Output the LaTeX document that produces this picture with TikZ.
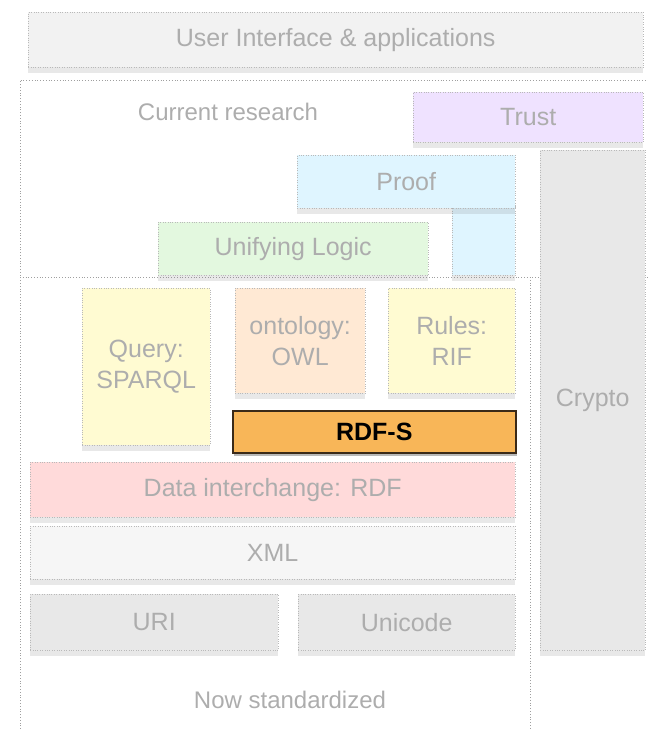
\documentclass[tikz,border=0pt]{standalone}
\usepackage{fontspec}
\setmainfont{Liberation Sans}
\usetikzlibrary{shadows}

\definecolor{fadetext}{HTML}{ADADAD}
\definecolor{uifill}{HTML}{F2F2F2}
\definecolor{trustfill}{HTML}{EFE2FF}
\definecolor{prooffill}{HTML}{DFF5FF}
\definecolor{logicfill}{HTML}{E3F8DF}
\definecolor{yellowfill}{HTML}{FFFBD2}
\definecolor{owlfill}{HTML}{FFE9D4}
\definecolor{rdffill}{HTML}{FFDADA}
\definecolor{xmlfill}{HTML}{F6F6F6}
\definecolor{grayfill}{HTML}{E8E8E8}
\definecolor{rdfsfill}{HTML}{F8B658}
\definecolor{rdfsline}{HTML}{3B2A18}

\tikzset{
  layer/.style={draw=gray!55, dotted, fill=#1, text=fadetext,
    font=\fontsize{25}{31}\selectfont, align=center, inner sep=0pt,
    anchor=north west,
    drop shadow={opacity=0.18, shadow xshift=0pt, shadow yshift=-6pt}},
  frame/.style={draw=gray!75, dotted, thick},
  caption/.style={text=fadetext, font=\fontsize{24}{27}\selectfont},
  rdfsbox/.style={draw=rdfsline, line width=1.6pt, fill=rdfsfill,
    font=\fontsize{25}{28}\selectfont\bfseries, anchor=north west,
    drop shadow={opacity=0.55, shadow xshift=1pt, shadow yshift=-3pt}}
}

\begin{document}
\begin{tikzpicture}[x=1pt, y=-1pt]
      \useasboundingbox (0,0) rectangle (648,729);
      % frames of the two regions
      \draw[frame] (20,729) -- (20,80) -- (648,80);
      \draw[frame] (20,277) -- (648,277);
      \draw[frame] (530,277) -- (530,729);
      \node[caption] (research) at (228,112) {Current research};
      \node[caption] (standard) at (290,700) {Now standardized};

      % top of the stack
      \node[layer=uifill, minimum width=615, minimum height=55] (ui) at (28,12) {User Interface \& applications};
      \node[layer=trustfill, minimum width=230, minimum height=50] (trust) at (413,92) {Trust};
      \node[layer=grayfill, minimum width=105, minimum height=500] (crypto) at (540,150) {Crypto};
      \node[layer=prooffill, minimum width=63, minimum height=70] (proofleg) at (452,205) {};
      \node[layer=prooffill, minimum width=218, minimum height=53] (proof) at (297,155) {Proof};
      \node[layer=logicfill, minimum width=270, minimum height=53] (logic) at (158,222) {Unifying Logic};

      % middle layers
      \node[layer=yellowfill, minimum width=128, minimum height=157] (query) at (82,288) {Query:\\SPARQL};
      \node[layer=owlfill, minimum width=130, minimum height=105] (owl) at (235,288) {ontology:\\OWL};
      \node[layer=yellowfill, minimum width=127, minimum height=105] (rules) at (388,288) {Rules:\\RIF};
      \node[rdfsbox, minimum width=283, minimum height=42] (rdfs) at (232,410) {RDF-S};

      % bottom layers
      \node[layer=rdffill, minimum width=485, minimum height=55] (rdf) at (30,462) {Data interchange: RDF};
      \node[layer=xmlfill, minimum width=485, minimum height=53] (xml) at (30,526) {XML};
      \node[layer=grayfill, minimum width=248, minimum height=56] (uri) at (30,594) {URI};
      \node[layer=grayfill, minimum width=217, minimum height=56] (unicode) at (298,594) {Unicode};
    \end{tikzpicture}
\end{document}
